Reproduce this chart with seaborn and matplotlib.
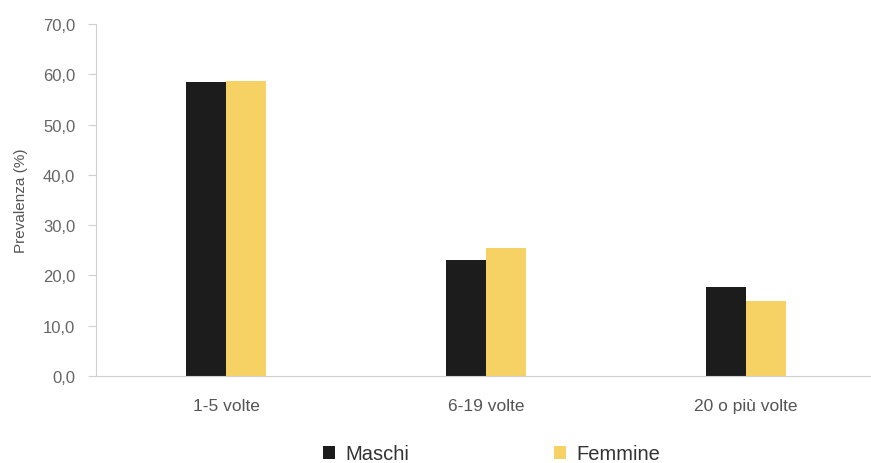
import pandas as pd
import matplotlib.pyplot as plt
import seaborn as sns

categories = ["1-5 volte", "6-19 volte", "20 o più volte"]
maschi = [58.5, 23.0, 17.7]
femmine = [58.7, 25.4, 15.0]
groups = ["Maschi", "Femmine"]
colors = ["#1c1c1c", "#f6d264"]
yticks = [0, 10, 20, 30, 40, 50, 60, 70]

df = pd.DataFrame({
    "categoria": categories * 2,
    "sesso": [groups[0]] * 3 + [groups[1]] * 3,
    "valore": maschi + femmine,
})

sns.set_style("white")
plt.rcParams["font.family"] = ["Liberation Sans", "DejaVu Sans"]

fig = plt.figure(figsize=(8.71, 4.64), dpi=100)
ax = fig.add_axes([96 / 871, 1 - 377 / 464, 775 / 871, (377 - 25) / 464])

sns.barplot(data=df, x="categoria", y="valore", hue="sesso",
            palette=colors, width=0.31, saturation=1, ax=ax, order=categories,
            hue_order=groups, linewidth=0)

ax.set_xlim(-0.5, 2.48)
ax.set_ylim(0, 70)
ax.set_yticks(yticks)
ax.set_yticklabels([f"{v:.1f}".replace(".", ",") for v in yticks])
ax.set_xlabel("")
ax.set_ylabel("Prevalenza (%)", fontsize=11, color="#555555", labelpad=11)

for s in ["top", "right"]:
    ax.spines[s].set_visible(False)
for s in ["left", "bottom"]:
    ax.spines[s].set_color("#d0d0d0")
    ax.spines[s].set_linewidth(0.8)

ax.tick_params(axis="y", left=True, length=6, color="#d0d0d0",
               labelsize=12, labelcolor="#666666", pad=9)
ax.tick_params(axis="x", bottom=False, labelsize=12.5, labelcolor="#555555", pad=12)

# legend below the plot, two entries side by side
sns.move_legend(ax, "lower center", bbox_to_anchor=(0.51, -0.3), ncol=2,
                frameon=False, title=None, fontsize=14.5, handlelength=0.6,
                handleheight=0.6, handletextpad=0.5, columnspacing=7.2)
for t in ax.get_legend().get_texts():
    t.set_color("#333333")

fig.savefig("out.png", dpi=100)
